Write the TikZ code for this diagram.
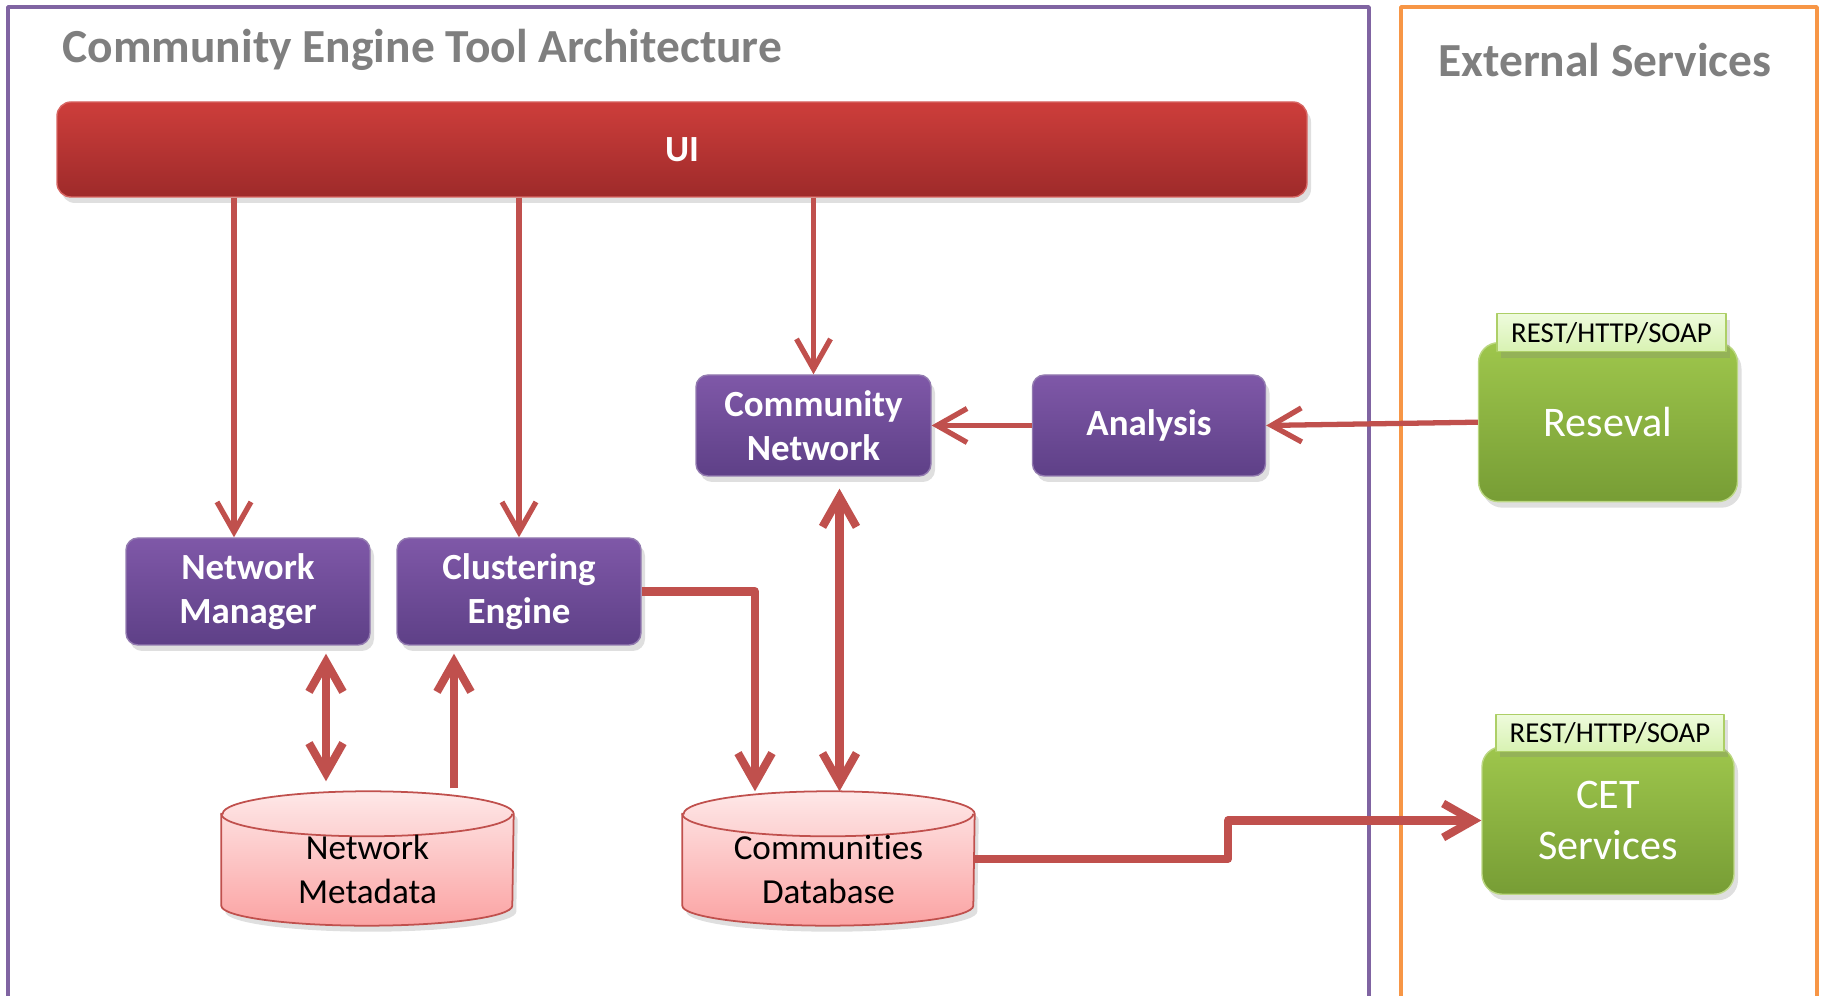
\documentclass[tikz,border=0pt]{standalone}
\usepackage{fontspec}
\setmainfont{Carlito}[Ligatures=NoCommon]
\usetikzlibrary{arrows.meta, shadows, backgrounds}

\definecolor{cetpurple}{HTML}{8064A2}
\definecolor{cetorange}{HTML}{F79646}
\definecolor{cetred}{HTML}{C0504D}
\definecolor{cetgray}{HTML}{7F7F7F}
\definecolor{uitop}{HTML}{CD3E3B}
\definecolor{uibot}{HTML}{9E2A2A}
\definecolor{comptop}{HTML}{7F58A8}
\definecolor{compbot}{HTML}{5E4087}
\definecolor{svctop}{HTML}{9EC64C}
\definecolor{svcbot}{HTML}{779D35}
\definecolor{ifacetop}{HTML}{EEFBDC}
\definecolor{ifacebot}{HTML}{D8F2B2}
\definecolor{dbtop}{HTML}{FEE8E8}
\definecolor{dbbot}{HTML}{FBA3A3}

\begin{document}
\begin{tikzpicture}
            [>={Straight Barb[length=3mm, width=3.4mm]}, line join=round,
             zone/.style={line width=1pt},
             heading/.style={text=cetgray, inner sep=0pt, font=\fontsize{13.5}{16}\selectfont\bfseries},
             softshadow/.style={drop shadow={shadow xshift=0.4mm, shadow yshift=-0.6mm, opacity=0.25}},
             uibar/.style={rectangle, rounded corners=1.4mm, draw=uitop!80!white, top color=uitop, bottom color=uibot,
                 text=white, font=\fontsize{10.5}{12.6}\selectfont\bfseries, softshadow},
             comp/.style={rectangle, rounded corners=1.2mm, draw=cetpurple!85!white, top color=comptop, bottom color=compbot,
                 text=white, align=center, inner sep=0pt, font=\fontsize{10.5}{12.6}\selectfont\bfseries, softshadow},
             svc/.style={rectangle, rounded corners=2mm, draw=svctop!70!white, top color=svctop, bottom color=svcbot,
                 text=white, align=center, inner sep=0pt, font=\fontsize{12}{14.4}\selectfont, softshadow},
             iface/.style={rectangle, draw=svctop!85!white, top color=ifacetop, bottom color=ifacebot,
                 inner sep=0pt, font=\fontsize{8.2}{10}\selectfont, softshadow},
             store/.style={rectangle, minimum width=2.91cm, minimum height=1.105cm, inner sep=0pt, align=center,
                 font=\fontsize{10}{12.5}\selectfont},
             dbskin/.style={draw=cetred, line width=0.5pt, top color=dbtop, bottom color=dbbot, softshadow},
             flow/.style={->, color=cetred, line width=1.5pt},
             bold flow/.style={flow, line width=2.3pt}]
            \useasboundingbox (0, 0) rectangle (18.21, 9.96);

            % the two areas
            \draw[zone, cetpurple] (0.08, 0) |- (13.69, 9.89) -- (13.69, 0);
            \draw[zone, cetorange] (14.01, 0) |- (18.17, 9.89) -- (18.17, 0);
            \node[heading, anchor=base west] (archtitle) at (0.62, 9.33) {Community Engine Tool Architecture};
            \node[heading, anchor=base] (svctitle) at (16.05, 9.19) {External Services};

            \node[uibar, minimum width=12.5cm, minimum height=0.95cm] (ui) at (6.82, 8.465) {UI};

            \node[comp, minimum width=2.44cm, minimum height=1.07cm] (nmgr) at (2.48, 4.045) {Network\\Manager};
            \node[comp, minimum width=2.44cm, minimum height=1.07cm] (ceng) at (5.19, 4.045) {Clustering\\Engine};
            \node[comp, minimum width=2.35cm, minimum height=1.01cm] (cnet) at (8.135, 5.705) {Community\\Network};
            \node[comp, minimum width=2.33cm, minimum height=1.01cm] (anal) at (11.49, 5.705) {Analysis};

            % databases: node is the body below the centre of the top face
            \node[store] (nmeta) at (3.675, 1.2625) {Network\\Metadata};
            \node[store] (cdb) at (8.285, 1.2625) {Communities\\Database};
            \begin{scope}[on background layer]
                \path[dbskin] (nmeta.north west) -- ([yshift=2mm]nmeta.south west)
                    arc[start angle=180, end angle=360, x radius=1.455cm, y radius=2mm] -- (nmeta.north east)
                    arc[start angle=0, end angle=180, x radius=1.455cm, y radius=2.25mm] -- cycle;
                \draw[cetred, line width=0.5pt] (nmeta.north west) arc[start angle=180, end angle=360, x radius=1.455cm, y radius=2.25mm];
                \path[dbskin] (cdb.north west) -- ([yshift=2mm]cdb.south west)
                    arc[start angle=180, end angle=360, x radius=1.455cm, y radius=2mm] -- (cdb.north east)
                    arc[start angle=0, end angle=180, x radius=1.455cm, y radius=2.25mm] -- cycle;
                \draw[cetred, line width=0.5pt] (cdb.north west) arc[start angle=180, end angle=360, x radius=1.455cm, y radius=2.25mm];
            \end{scope}

            \node[svc, minimum width=2.59cm, minimum height=1.59cm] (reseval) at (16.08, 5.738) {Reseval};
            \node[iface, minimum width=2.29cm, minimum height=0.38cm] (resevalapi) at (16.115, 6.633) {REST/HTTP/SOAP};
            \node[svc, minimum width=2.52cm, minimum height=1.475cm] (cet) at (16.08, 1.755) {CET\\Services};
            \node[iface, minimum width=2.28cm, minimum height=0.37cm] (cetapi) at (16.10, 2.63) {REST/HTTP/SOAP};

            \coordinate (mgrin) at ([xshift=-1.4mm]nmgr.north);
            \coordinate (mgrmeta) at ([xshift=7.8mm]nmgr.south);
            \coordinate (metaeng) at ([xshift=-6.5mm]ceng.south);
            \coordinate (netdb) at ([xshift=2.6mm]cnet.south);
            \coordinate (metatop) at ([yshift=2.25mm]nmeta.north);
            \coordinate (dbtop) at ([yshift=2.25mm]cdb.north);
            \coordinate (dbout) at ([yshift=1.1mm]cdb.east);
            \coordinate (engdb) at (7.55, 0);
            \coordinate (jog) at (12.28, 0);

            \path [flow] (mgrin |- ui.south) edge (mgrin);
            \path [flow] (ui.south -| ceng.north) edge (ceng.north);
            \path [flow] (ui.south -| cnet.north) edge (cnet.north);
            \path [flow] (anal.west) edge (cnet.east);
            \path [flow] (reseval.west) edge (anal.east);
            \draw [bold flow, <->, shorten <=0.8mm, shorten >=1mm] (mgrmeta) -- (mgrmeta |- metatop);
            \draw [bold flow, shorten >=0.8mm, shorten <=0.3mm] (metaeng |- metatop) -- (metaeng);
            \draw [bold flow, <->, shorten <=1.2mm] (netdb) -- (netdb |- dbtop);
            \draw [bold flow] (ceng.east) -| (engdb |- dbtop);
            \draw [bold flow] (dbout) -| (jog |- cet.west) -- (cet.west);
        \end{tikzpicture}
\end{document}
